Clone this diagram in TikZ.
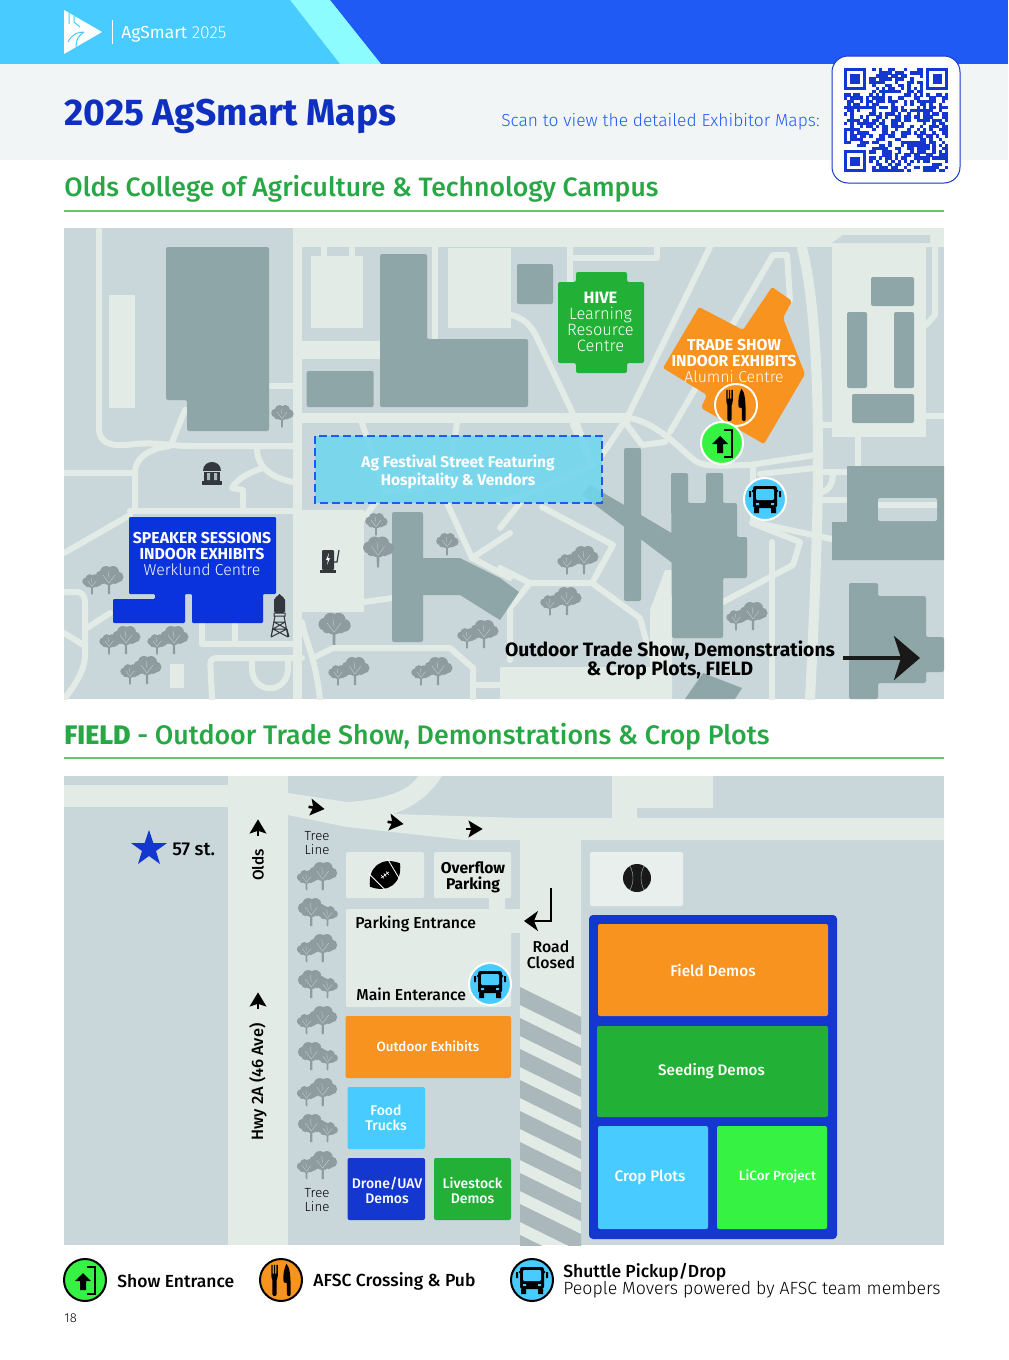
\documentclass[tikz,border=0pt]{standalone}
\usepackage{fontspec}
\setmainfont{Fira Sans}
\newfontfamily\lightf{Fira Sans Light}
\newfontfamily\mediumf{Fira Sans Medium}
\usetikzlibrary{arrows.meta}
\usetikzlibrary{shapes.geometric}

\definecolor{mapbg}{HTML}{C9D6DA}
\definecolor{roadc}{HTML}{E3EBE7}
\definecolor{bldg}{HTML}{8FA6A8}
\definecolor{treec}{HTML}{8E9C9F}
\definecolor{stripec}{HTML}{AAB8BB}
\definecolor{deepblue}{HTML}{0F2FC0}
\definecolor{wblue}{HTML}{0A33DD}
\definecolor{fblue}{HTML}{1437D0}
\definecolor{topblue}{HTML}{1F5AF5}
\definecolor{skyc}{HTML}{48CBFF}
\definecolor{cyanc}{HTML}{8CFCFF}
\definecolor{bandc}{HTML}{F2F5F5}
\definecolor{orangec}{HTML}{F7931E}
\definecolor{greenc}{HTML}{22B036}
\definecolor{limec}{HTML}{36F343}
\definecolor{headgreen}{HTML}{27A844}
\definecolor{rulegreen}{HTML}{6CC36C}
\definecolor{festc}{HTML}{6FD6EE}
\definecolor{darkc}{HTML}{32383C}

\newcommand{\pxf}[2]{\fontsize{#1}{#2}\selectfont}

\tikzset{
 road/.style={draw=roadc,line width=3pt,line join=round,line cap=round},
 wideroad/.style={road,line width=5pt},
 spot/.style={rounded corners=1pt},
 maptext/.style={text=white,align=center,inner sep=0pt,font=\pxf{7.9}{8}},
 fieldtext/.style={text=white,align=center,inner sep=0pt,font=\pxf{7}{7.6}\mediumf},
 blacktext/.style={text=black,align=center,inner sep=0pt,font=\pxf{7.9}{8}\mediumf},
 ring/.style={circle,draw=white,line width=1pt,minimum size=21pt,inner sep=0pt},
 keyring/.style={circle,draw=black,line width=1pt,minimum size=21pt,inner sep=0pt},
 keytext/.style={text=black,anchor=west,inner sep=0pt,font=\pxf{8.75}{9}\mediumf},
 headtext/.style={text=headgreen,anchor=west,inner sep=0pt,font=\pxf{13.3}{14}\mediumf},
 blobtree/.pic={
  \fill[treec] (-8,-5) circle[radius=5.5] (-3,-9) circle[radius=6] (4,-9) circle[radius=6]
   (9,-4) circle[radius=5.5] (0,-4) circle[radius=8] (-6,-1) circle[radius=4] (6,-1) circle[radius=4];
  \fill[treec] (-1.2,0) -- (1.2,0) -- (1.1,13) -- (-1.1,13) -- cycle;
  \draw[mapbg,line width=.15pt] (0,2) -- (-6,-6) (0,2) -- (6,-6) (0,-3) -- (-1,-10);
 },
 treepair/.pic={
  \pic at (6,-1) {blobtree};
  \pic[scale=.72] at (-11,3) {blobtree};
 },
 smallarrow/.pic={
  \fill[black] (-7,-9) -- (8,0) -- (-7,9) -- (-4,0) -- cycle;
  \fill[black] (-9,-1.4) rectangle (0,1.4);
 },
 cutlery/.pic={
  \fill[black] (-9,-14) -- (-7.8,-14) -- (-7.8,-6) -- (-6.6,-6) -- (-6.6,-14) -- (-5.4,-14) -- (-5.4,-6)
   -- (-4.2,-6) -- (-4.2,-14) -- (-3,-14) -- (-3,-4) .. controls (-3,-1) and (-4,-1) .. (-4,0)
   -- (-4,13) .. controls (-4,15.5) and (-8,15.5) .. (-8,13) -- (-8,0)
   .. controls (-8,-1) and (-9,-1) .. (-9,-4) -- cycle;
  \fill[black] (5,-15) .. controls (8,-12) and (9,-6) .. (9,13) .. controls (9,15.5) and (5.5,15.5) .. (5.5,13)
   -- (5.5,3) -- (2.5,2) .. controls (1.5,-5) and (3,-11) .. (5,-15) -- cycle;
 },
 doorsign/.pic={
  \fill[black] (-5,1) -- (-10,1) -- (-2,-7) -- (6,1) -- (1,1) -- (1,10) -- (-5,10) -- cycle;
  \draw[black,line width=1pt] (2,-13) -- (10,-13) -- (10,14) -- (2,14);
 },
 busfront/.pic={
  \fill[black,rounded corners=1.2pt] (-12,-13) rectangle (12,9);
  \fill[black] (-16,-8) rectangle (-14,-2) (14,-8) rectangle (16,-2) (-13,-9) rectangle (13,-7);
  \fill[skyc,rounded corners=.6pt] (-9,-10) rectangle (9,1);
  \fill[black] (-11,9) rectangle (-6,14) (6,9) rectangle (11,14);
  \fill[skyc] (-9,4) rectangle (-6,6) (6,4) rectangle (9,6);
 },
}

\begin{document}
\begin{tikzpicture}[x=0.5pt,y=-0.5pt]
\useasboundingbox (0,0) rectangle (1008,1360);
\fill[white] (0,0) rectangle (1008,1360);

% page head
\fill[topblue] (0,0) rectangle (1008,64);
\fill[skyc] (0,0) -- (290,0) -- (340,64) -- (0,64) -- cycle;
\fill[cyanc] (290,0) -- (330,0) -- (381,64) -- (340,64) -- cycle;
\fill[bandc] (0,64) rectangle (1008,160);
\fill[white] (64,10) -- (102,32) -- (64,54) -- cycle;
\draw[skyc,line width=.5pt] (69,13) -- (69,24) (74,16) -- (74,22) -- (80,27) (68,42) .. controls (72,34) and (78,32) .. (84,32) (76,47) .. controls (76,40) and (78,36) .. (84,32);
\draw[white,line width=.5pt] (112,20) -- (112,44);
\node[anchor=west,inner sep=0pt,text=white,font=\pxf{8.7}{9}] (brand) at (121,34) {AgSmart {\lightf 2025}};
\node[anchor=west,inner sep=0pt,text=deepblue,font=\pxf{18.6}{19}\bfseries] (pagetitle) at (64,116) {2025 AgSmart Maps};
\node[anchor=east,inner sep=0pt,text=topblue,font=\pxf{8.7}{9}\lightf] (scantext) at (820,121.5) {Scan to view the detailed Exhibitor Maps:};

% qr code
\fill[white,draw=fblue,line width=.5pt,rounded corners=8pt] (832,56) rectangle (960,183);
\pgfmathsetseed{18}
\foreach \qi in {0,...,32}
 \foreach \qj in {0,...,32}{
  \pgfmathsetmacro{\qon}{rnd<0.52 ? 1 : 0}
  \ifdim\qon pt>0pt
   \fill[fblue] ({844+\qi*3.16},{68+\qj*3.16}) rectangle ({844+(\qi+1)*3.16+.2},{68+(\qj+1)*3.16+.2});
  \fi
 }
\foreach \qx/\qy in {844/68,926.2/68,844/150.2}{
 \fill[white] ({\qx-3.2},{\qy-3.2}) rectangle ({\qx+25.3},{\qy+25.3});
 \fill[fblue] (\qx,\qy) rectangle ({\qx+22.1},{\qy+22.1});
 \fill[white] ({\qx+3.2},{\qy+3.2}) rectangle ({\qx+19},{\qy+19});
 \fill[fblue] ({\qx+6.3},{\qy+6.3}) rectangle ({\qx+15.8},{\qy+15.8});
}

% first heading
\node[headtext] (campushead) at (64,189) {Olds College of Agriculture \& Technology Campus};
\draw[rulegreen,line width=.6pt] (64,211) -- (944,211);

% campus map
\begin{scope}
\clip (64,228) rectangle (944,699);
\fill[mapbg] (64,228) rectangle (944,699);
\fill[roadc] (293,228) rectangle (302,699);
\fill[roadc] (293,228) rectangle (944,247);
\fill[roadc] (108.7,295) rectangle (134.7,408);
\fill[roadc] (311,256) rectangle (363,328);
\fill[roadc] (302,341) rectangle (380,359);
\fill[roadc] (302,413) rectangle (630,423);
\fill[roadc] (447.7,248) rectangle (511,328);
\fill[roadc] (302,510) rectangle (364,612);
\fill[roadc] (832,243) rectangle (926,437);
\fill[mapbg] (843,235) -- (930,235) -- (930,243) -- (832,243) -- cycle;
\fill[roadc] (170,664) rectangle (184,688);
\fill[roadc] (500,667) -- (650,667) -- (650,610) -- (665,570) -- (672,570) -- (672,699) -- (500,699) -- cycle;
\draw[road] (99,230) -- (99,428) .. controls (99,448) and (120,446) .. (135,444) .. controls (160,442) and (170,446) .. (190,446) -- (293,446);
\draw[road] (185,410) -- (171,445);
\draw[road] (135,508) -- (135,472) .. controls (135,458) and (150,448) .. (170,446);
\draw[road] (64,473) -- (135,473);
\draw[road] (130,511) -- (293,511);
\draw[road] (64,553) -- (130,515);
\draw[road] (270,386) -- (293,386);
\draw[road] (257,450) .. controls (257,465) and (270,478) .. (293,482);
\draw[road] (263,468) .. controls (250,472) and (238,478) .. (232,488) -- (243,490) -- (243,510);
\draw[road] (64,592) -- (76,592) .. controls (84,592) and (85,598) .. (85,604) -- (85,655) .. controls (85,670) and (75,685) .. (65,698);
\draw[road] (87,628) -- (110,613);
\draw[road] (64,633) -- (85,646);
\draw[road] (202,623) -- (202,644) -- (293,644);
\draw[road] (235,623) -- (235,644);
\draw[road,rounded corners=3pt] (212,699) -- (210,658) -- (302,658);
\draw[road] (252,660) -- (252,668) .. controls (252,695) and (288,695) .. (288,668) -- (288,660);
\draw[road] (302,622) .. controls (305,640) and (315,655) .. (320,699);
\draw[road] (313,658) -- (333,648) -- (450,648) -- (473,668) -- (473,685) -- (510,685);
\draw[road] (473,668) -- (473,699);
\draw[road] (364,602) -- (392,598);
\draw[road] (324,247) -- (324,256) (352,247) -- (352,256);
\draw[road] (435,247) -- (435,339);
\draw[road] (570,247) -- (570,312);
\draw[road] (570,258) -- (657,258) -- (657,247);
\draw[road] (511,315) .. controls (525,318) and (533,328) .. (538,340) -- (575,418) -- (592,465);
\draw[road] (630,418) .. controls (660,424) and (680,450) .. (697,462) .. controls (710,468) and (730,465) .. (750,465) -- (815,455);
\draw[road] (710,247) -- (627,418) -- (600,458);
\draw[road] (627,425) -- (642,445) -- (665,442);
\draw[road] (670,432) -- (773,255) -- (787,255) -- (790,300);
\draw[wideroad] (802,248) .. controls (815,300) and (818,380) .. (818,458) .. controls (818,520) and (815,600) .. (810,699);
\draw[road] (935,230) -- (935,315) -- (926,325);
\draw[road] (822,425) -- (832,425) (926,416) -- (944,416);
\draw[road] (753,468) -- (753,522) -- (813,535) -- (846,542);
\draw[road] (760,474) -- (815,468);
\draw[road] (822,472) -- (847,472) (833,472) .. controls (833,482) and (830,490) .. (822,492) (822,500) -- (847,500);
\draw[road] (858,438) -- (858,465);
\draw[road] (752,523) -- (800,542) -- (793,565) -- (723,602);
\draw[road] (772,542) -- (772,699);
\draw[road] (500,568) -- (530,583) -- (592,583) -- (640,618) -- (650,655);
\draw[road] (530,583) -- (510,608) -- (510,660);
\draw[road] (542,507) -- (613,545) -- (592,583);
\draw[road] (520,503) -- (500,528);
\draw[road] (447,503) -- (472,558) -- (510,533);
\draw[road] (472,558) -- (510,578);
\draw[road] (375,503) -- (364,518);
\draw[road] (362,423) -- (385,492) -- (443,485) -- (450,470) -- (457,423);
\draw[road] (573,425) -- (592,465) -- (533,492) -- (500,502);

% buildings
\fill[bldg,spot] (166,247) -- (269,247) -- (269,431) -- (187,431) -- (187,400) -- (166,400) -- cycle;
\fill[bldg,spot] (306.7,371) rectangle (373.7,407);
\fill[bldg,spot] (380,254) -- (427,254) -- (427,339) -- (528,339) -- (528,407) -- (380,407) -- cycle;
\fill[bldg,spot] (517,264) rectangle (553,304);
\fill[bldg,spot] (871,277) rectangle (914,306);
\fill[bldg,spot] (847,312) rectangle (867,388);
\fill[bldg,spot] (894,312) rectangle (914,388);
\fill[bldg,spot] (852,394) rectangle (914,423);
\fill[bldg] (847,466) -- (944,466) -- (944,560) -- (832,560) -- (832,522) -- (847,522) -- cycle;
\fill[mapbg,spot] (878,498) rectangle (937,521);
\fill[roadc] (878,502) rectangle (937,508);
\fill[bldg,spot] (849,583) -- (878,583) -- (878,596) -- (926,596) -- (926,637) -- (944,637) -- (944,672) -- (926,672) -- (926,683) -- (878,683) -- (878,699) -- (849,699) -- cycle;
\fill[bldg,spot] (671,473) -- (688,473) -- (688,503) -- (706,503) -- (706,473) -- (723,473) -- (723,503) -- (737,503) -- (737,537) -- (747,537) -- (747,578) -- (723,578) -- (723,638) -- (672,638) -- cycle;
\fill[bldg] (582,495) -- (590,485) -- (675,535) -- (675,565) -- cycle;
\fill[bldg,spot] (624,448) rectangle (641,601);
\fill[bldg] (703,673) -- (742,688) -- (735,699) -- (685,699) -- cycle;
\fill[bldg,spot] (392,512) rectangle (423,642);
\fill[bldg] (423,558) -- (460,558) -- (500,578) -- (519,592) -- (500,620) -- (460,595) -- (423,595) -- cycle;

% trees
\pic at (282,417) [scale=.8] {blobtree};
\foreach \tx/\ty in {103/582,120/642,168/642,141/672,349/673,432/673,478/636,578/562,561/603,747/618}
 \pic at (\tx,\ty) {treepair};
\pic at (376,525) [scale=.8] {blobtree};
\pic at (378,553) [scale=1.1] {blobtree};
\pic at (447,545) [scale=.8] {blobtree};
\pic at (334,630) [scale=1.15] {blobtree};

% pavilion, charger, water tower
\fill[darkc] (203,471) .. controls (203,459) and (221,459) .. (221,471) -- cycle;
\fill[darkc] (204,472) rectangle (220,481);
\fill[stripec] (207,473) rectangle (210,480) (214,473) rectangle (217,480);
\fill[darkc] (202,481) rectangle (222,485);
\fill[darkc,rounded corners=.6pt] (322,550) rectangle (334,570);
\fill[darkc] (320,570) rectangle (336,572.5);
\fill[white] (329,553) -- (326,560) -- (328,560) -- (327,565) -- (330,558) -- (328,558) -- cycle;
\draw[darkc,line width=.6pt] (339,550) -- (337,562) -- (334,562);
\fill[darkc,rounded corners=.8pt] (274,598) rectangle (285,613);
\fill[darkc] (279.5,594) -- (284,598) -- (275,598) -- cycle;
\draw[darkc,line width=.5pt] (274,613) rectangle (285,616) (275,616) -- (271,637) (284,616) -- (288,637) (274,622) -- (285,622) (273,629) -- (287,629) (274,622) -- (287,629) (285,622) -- (273,629) (273,629) -- (271,637) (287,629) -- (289,637) (273,629) -- (288,637) (287,629) -- (271,637);

% venues
\fill[festc,opacity=.88] (315,436) rectangle (602,503);
\draw[topblue,line width=.6pt,dash pattern=on 4pt off 2pt] (315,436) rectangle (602,503);
\node[maptext,font=\pxf{7.75}{8}\bfseries] (festival) at (458,471.5) {Ag Festival Street Featuring\\Hospitality \& Vendors};
\fill[wblue,rounded corners=.6pt] (129,517) -- (276,517) -- (276,594) -- (263,594) -- (263,623) -- (192,623) -- (192,594) -- (185,594) -- (185,623) -- (113,623) -- (113,599) -- (155,599) -- (155,594) -- (129,594) -- cycle;
\node[maptext] (werklund) at (202,554) {\bfseries SPEAKER SESSIONS\\\bfseries INDOOR EXHIBITS\\\lightf Werklund Centre};
\fill[greenc,rounded corners=1pt] (558,282) -- (576,282) -- (576,272) -- (627,272) -- (627,282) -- (644,282) -- (644,363) -- (627,363) -- (627,373) -- (576,373) -- (576,363) -- (558,363) -- cycle;
\node[maptext,font=\pxf{8.2}{8}] (hive) at (600.5,322) {\bfseries HIVE\\\lightf Learning\\\lightf Resource\\\lightf Centre};
\fill[orangec,rounded corners=1pt] (699,307) -- (743,330) -- (772,287) -- (792,301) -- (783,318) -- (805,374) -- (764,444) -- (701,408) -- (707,395) -- (663,368) -- cycle;
\node[maptext] (alumni) at (734,361) {\bfseries TRADE SHOW\\\bfseries INDOOR EXHIBITS\\\lightf Alumni Centre};
\node[ring,fill=orangec] (pubspot) at (736,405) {};
\pic at (pubspot) [scale=1.08] {cutlery};
\node[ring,fill=limec] (entryspot) at (722,443) {};
\pic at (entryspot) {doorsign};
\node[ring,fill=skyc] (busspot) at (765,499) {};
\pic at (busspot) {busfront};

\node[blacktext,font=\pxf{9.65}{9.8}\bfseries] (fieldnote) at (670,660.5) {Outdoor Trade Show, Demonstrations\\\& Crop Plots, FIELD};
\coordinate (fieldtail) at (843,658);
\coordinate (fieldtip) at (920,658);
\draw[-{Stealth[length=13pt,width=22pt,inset=3.5pt]},line width=2.4pt,draw=black!90] (fieldtail) -- (fieldtip);
\end{scope}

% second heading
\node[headtext,font=\pxf{13.4}{14}\mediumf] (fieldhead) at (64,737) {\textbf{FIELD} - Outdoor Trade Show, Demonstrations \& Crop Plots};
\draw[rulegreen,line width=.6pt] (64,758) -- (944,758);

% field map
\begin{scope}
\clip (64,776) rectangle (944,1245);
\fill[mapbg] (64,776) rectangle (944,1245);
\fill[roadc] (64,785) -- (228,785) -- (228,807) -- (64,807) -- cycle;
\fill[roadc] (228,776) rectangle (288,1245);
\fill[roadc] (288,793) -- (347,802) .. controls (385,800) and (410,790) .. (418,776) -- (442,776) .. controls (428,798) and (410,808) .. (393,814) -- (520,818) -- (944,818) -- (944,840) -- (465,840) -- (347,827) -- (288,815) -- cycle;
\fill[roadc] (612,776) -- (713,776) -- (713,808) -- (637,808) -- (637,820) -- (612,820) -- cycle;
\fill[roadc] (520,835) rectangle (581,1245);
\begin{scope}
\clip (520,985) rectangle (581,1245);
\foreach \sk in {0,...,8}
 \fill[stripec] (520,{987+\sk*31}) -- (581,{1017+\sk*31}) -- (581,{1035+\sk*31}) -- (520,{1005+\sk*31}) -- cycle;
\end{scope}
\fill[roadc,spot] (346,909) rectangle (511,1007);
\fill[roadc] (489,895) rectangle (505,909);
\fill[roadc] (511,909) rectangle (521,933);
\fill[roadc,spot] (346,852) rectangle (424,898);
\fill[roadc,spot] (434,852) rectangle (511,898);
\fill[roadc!80!white,spot] (590,852) rectangle (683,906);

% field plots
\fill[orangec,spot] (345.5,1016) rectangle (511,1078);
\node[fieldtext,font=\pxf{6.7}{7}\mediumf] (outdoorplot) at (428,1046.5) {Outdoor Exhibits};
\fill[skyc,spot] (347.5,1087) rectangle (425,1149);
\node[fieldtext] (foodplot) at (386,1118) {Food\\Trucks};
\fill[fblue,spot] (347.5,1158) rectangle (425,1220);
\node[fieldtext] (droneplot) at (387,1190.5) {Drone/UAV\\Demos};
\fill[greenc,spot] (434,1158) rectangle (511,1220);
\node[fieldtext] (stockplot) at (472.5,1190.5) {Livestock\\Demos};
\fill[fblue,rounded corners=2pt] (589,915) rectangle (837,1239);
\fill[orangec,spot] (598,924) rectangle (828,1016);
\node[fieldtext,font=\pxf{7.7}{8}\mediumf] (fielddemo) at (713,970) {Field Demos};
\fill[greenc,spot] (597,1026) rectangle (828,1117);
\node[fieldtext,font=\pxf{7.6}{8}\mediumf] (seeddemo) at (711.5,1071.5) {Seeding Demos};
\fill[skyc,spot] (598,1126) rectangle (708,1229);
\node[fieldtext,font=\pxf{7.6}{8}\mediumf] (cropdemo) at (650,1177) {Crop Plots};
\fill[limec,spot] (717,1126) rectangle (827,1229);
\node[fieldtext,font=\pxf{6.7}{8}\mediumf] (licordemo) at (777.5,1177) {LiCor Project};

% trees, arrows, labels
\foreach \ty/\tf in {878/1,914/-1,950/1,986/-1,1022/1,1058/-1,1094/1,1130/-1,1167/1}
 \pic at (317,\ty) [xscale=\tf,scale=.95] {treepair};
\foreach \ax/\ay/\ang in {258/827/90,258/1000/90,317/808/-8,396/823/-8,475/829/0}
 \pic at (\ax,\ay) [rotate=\ang,scale=.95] {smallarrow};
\fill[fblue] (149,830) -- (153.4,843) -- (167,843) -- (156,851) -- (160,864) -- (149,856) -- (138,864) -- (142,851) -- (131,843) -- (144.6,843) -- cycle;
\node[blacktext,anchor=west,font=\pxf{9.3}{9}\mediumf] (street) at (172,849.5) {57 st.};
\node[blacktext,rotate=90,font=\pxf{7.7}{8}\mediumf] (oldslabel) at (258,865) {Olds};
\node[blacktext,rotate=90,font=\pxf{8.2}{8}\mediumf] (hwylabel) at (258,1082) {Hwy 2A (46 Ave)};
\node[blacktext,font=\pxf{6.6}{7.4}\lightf] (treetop) at (317,843) {Tree\\Line};
\node[blacktext,font=\pxf{6.6}{7.4}\lightf] (treelow) at (317,1200) {Tree\\Line};
\node[blacktext,font=\pxf{7.8}{8}\bfseries] (overflow) at (473,877) {Overflow\\Parking};
\node[blacktext,anchor=west] (parkgate) at (355,923.5) {Parking Entrance};
\node[blacktext,anchor=west] (maingate) at (356,994) {Main Enterance};
\node[ring,fill=skyc] (fieldbus) at (490,984) {};
\pic at (fieldbus) {busfront};
\node[blacktext] (closed) at (551,955) {Road\\Closed};
\coordinate (closedtop) at (551,888);
\coordinate (closedbend) at (551,921);
\coordinate (closedtip) at (524,921);
\draw[-{Stealth[length=7pt,width=10pt,inset=2pt]},line width=.9pt] (closedtop) -- (closedbend) -- (closedtip);

% football and baseball
\begin{scope}[shift={(385,875)},rotate=38]
\fill[black] (-19,0) .. controls (-9,-17) and (9,-17) .. (19,0) .. controls (9,17) and (-9,17) .. (-19,0) -- cycle;
\draw[white,line width=.4pt] (-12,-12) -- (-9,12) (12,-12) -- (9,12);
\draw[white,line width=.3pt] (-5,0) -- (5,0) (-3,-2) -- (-3,2) (0,-2) -- (0,2) (3,-2) -- (3,2);
\end{scope}
\fill[black!90] (637,878) circle[radius=14];
\draw[stripec,line width=.2pt] (630,866) .. controls (634,874) and (634,882) .. (630,890) (644,866) .. controls (640,874) and (640,882) .. (644,890);
\end{scope}

% legend
\node[keyring,fill=limec] (keyentry) at (85,1280) {};
\pic at (keyentry) {doorsign};
\node[keytext] (keyentrytext) at (117,1281) {Show Entrance};
\node[keyring,fill=orangec] (keypub) at (281,1280) {};
\pic at (keypub) [scale=1.08] {cutlery};
\node[keytext] (keypubtext) at (313,1281) {AFSC Crossing \& Pub};
\node[keyring,fill=skyc] (keybus) at (532,1280) {};
\pic at (keybus) {busfront};
\node[keytext] (keybustext) at (563,1272) {Shuttle Pickup/Drop};
\node[keytext,font=\pxf{8.85}{9}\lightf] (keybusnote) at (563,1290) {People Movers powered by AFSC team members};
\node[anchor=west,inner sep=0pt,font=\pxf{6.5}{7}\lightf] (pageno) at (64,1318.5) {18};
\end{tikzpicture}
\end{document}
